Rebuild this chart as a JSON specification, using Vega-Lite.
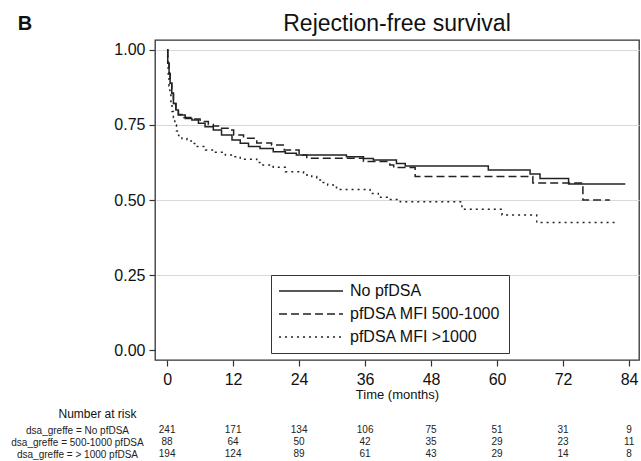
{
  "$schema": "https://vega.github.io/schema/vega-lite/v6.json",
  "padding": {"left": 10, "top": 12, "right": 0, "bottom": 0},
  "title": {"text": "B", "anchor": "start", "frame": "bounds", "fontSize": 20, "fontWeight": "bold", "font": "Liberation Sans", "color": "#111", "offset": -22, "dx": 7},
  "config": {"font": "Liberation Sans", "view": {"stroke": null}},
  "spacing": 5,
  "vconcat": [
    {
      "width": 484,
      "height": 320,
      "view": {"stroke": "#333", "strokeWidth": 1.3},
      "title": {"text": "Rejection-free survival", "fontSize": 23, "fontWeight": "normal", "anchor": "middle", "offset": 4, "color": "#111"},
      "data": {"values": [
        {"g": "No pfDSA", "t": 0, "s": 1.0},
        {"g": "No pfDSA", "t": 0.12, "s": 0.956},
        {"g": "No pfDSA", "t": 0.36, "s": 0.922},
        {"g": "No pfDSA", "t": 0.55, "s": 0.889},
        {"g": "No pfDSA", "t": 0.85, "s": 0.856},
        {"g": "No pfDSA", "t": 1.15, "s": 0.822},
        {"g": "No pfDSA", "t": 1.6, "s": 0.8},
        {"g": "No pfDSA", "t": 2.05, "s": 0.783},
        {"g": "No pfDSA", "t": 3.3, "s": 0.772},
        {"g": "No pfDSA", "t": 4.5, "s": 0.767},
        {"g": "No pfDSA", "t": 5.7, "s": 0.756},
        {"g": "No pfDSA", "t": 6.9, "s": 0.744},
        {"g": "No pfDSA", "t": 8.4, "s": 0.733},
        {"g": "No pfDSA", "t": 9.9, "s": 0.717},
        {"g": "No pfDSA", "t": 11.8, "s": 0.7},
        {"g": "No pfDSA", "t": 13.3, "s": 0.689},
        {"g": "No pfDSA", "t": 14.8, "s": 0.678},
        {"g": "No pfDSA", "t": 16.9, "s": 0.672},
        {"g": "No pfDSA", "t": 19.3, "s": 0.661},
        {"g": "No pfDSA", "t": 21.5, "s": 0.656},
        {"g": "No pfDSA", "t": 23.5, "s": 0.65},
        {"g": "No pfDSA", "t": 32.6, "s": 0.644},
        {"g": "No pfDSA", "t": 35.7, "s": 0.638},
        {"g": "No pfDSA", "t": 37.5, "s": 0.633},
        {"g": "No pfDSA", "t": 41.7, "s": 0.622},
        {"g": "No pfDSA", "t": 43.3, "s": 0.613},
        {"g": "No pfDSA", "t": 58.4, "s": 0.6},
        {"g": "No pfDSA", "t": 66.0, "s": 0.587},
        {"g": "No pfDSA", "t": 67.8, "s": 0.572},
        {"g": "No pfDSA", "t": 73.0, "s": 0.553},
        {"g": "No pfDSA", "t": 83.3, "s": 0.553},
        {"g": "pfDSA MFI 500-1000", "t": 0, "s": 1.0},
        {"g": "pfDSA MFI 500-1000", "t": 0.12, "s": 0.956},
        {"g": "pfDSA MFI 500-1000", "t": 0.36, "s": 0.922},
        {"g": "pfDSA MFI 500-1000", "t": 0.55, "s": 0.889},
        {"g": "pfDSA MFI 500-1000", "t": 0.85, "s": 0.856},
        {"g": "pfDSA MFI 500-1000", "t": 1.15, "s": 0.822},
        {"g": "pfDSA MFI 500-1000", "t": 1.6, "s": 0.8},
        {"g": "pfDSA MFI 500-1000", "t": 2.05, "s": 0.785},
        {"g": "pfDSA MFI 500-1000", "t": 3.0, "s": 0.775},
        {"g": "pfDSA MFI 500-1000", "t": 4.5, "s": 0.77},
        {"g": "pfDSA MFI 500-1000", "t": 6.0, "s": 0.762},
        {"g": "pfDSA MFI 500-1000", "t": 7.5, "s": 0.752},
        {"g": "pfDSA MFI 500-1000", "t": 8.4, "s": 0.747},
        {"g": "pfDSA MFI 500-1000", "t": 9.6, "s": 0.739},
        {"g": "pfDSA MFI 500-1000", "t": 11.5, "s": 0.733},
        {"g": "pfDSA MFI 500-1000", "t": 12.1, "s": 0.717},
        {"g": "pfDSA MFI 500-1000", "t": 13.9, "s": 0.706},
        {"g": "pfDSA MFI 500-1000", "t": 16.3, "s": 0.69},
        {"g": "pfDSA MFI 500-1000", "t": 19.0, "s": 0.683},
        {"g": "pfDSA MFI 500-1000", "t": 21.3, "s": 0.667},
        {"g": "pfDSA MFI 500-1000", "t": 24.0, "s": 0.65},
        {"g": "pfDSA MFI 500-1000", "t": 25.4, "s": 0.639},
        {"g": "pfDSA MFI 500-1000", "t": 35.7, "s": 0.628},
        {"g": "pfDSA MFI 500-1000", "t": 40.5, "s": 0.617},
        {"g": "pfDSA MFI 500-1000", "t": 41.2, "s": 0.608},
        {"g": "pfDSA MFI 500-1000", "t": 45.1, "s": 0.578},
        {"g": "pfDSA MFI 500-1000", "t": 66.5, "s": 0.557},
        {"g": "pfDSA MFI 500-1000", "t": 75.6, "s": 0.5},
        {"g": "pfDSA MFI 500-1000", "t": 80.5, "s": 0.5},
        {"g": "pfDSA MFI >1000", "t": 0, "s": 1.0},
        {"g": "pfDSA MFI >1000", "t": 0.1, "s": 0.96},
        {"g": "pfDSA MFI >1000", "t": 0.2, "s": 0.92},
        {"g": "pfDSA MFI >1000", "t": 0.35, "s": 0.88},
        {"g": "pfDSA MFI >1000", "t": 0.5, "s": 0.85},
        {"g": "pfDSA MFI >1000", "t": 0.7, "s": 0.82},
        {"g": "pfDSA MFI >1000", "t": 0.9, "s": 0.795},
        {"g": "pfDSA MFI >1000", "t": 1.15, "s": 0.775},
        {"g": "pfDSA MFI >1000", "t": 1.4, "s": 0.75},
        {"g": "pfDSA MFI >1000", "t": 1.7, "s": 0.73},
        {"g": "pfDSA MFI >1000", "t": 2.1, "s": 0.715},
        {"g": "pfDSA MFI >1000", "t": 2.7, "s": 0.705},
        {"g": "pfDSA MFI >1000", "t": 3.6, "s": 0.697},
        {"g": "pfDSA MFI >1000", "t": 4.4, "s": 0.688},
        {"g": "pfDSA MFI >1000", "t": 5.3, "s": 0.678},
        {"g": "pfDSA MFI >1000", "t": 7.0, "s": 0.667},
        {"g": "pfDSA MFI >1000", "t": 8.8, "s": 0.659},
        {"g": "pfDSA MFI >1000", "t": 10.6, "s": 0.65},
        {"g": "pfDSA MFI >1000", "t": 12.1, "s": 0.644},
        {"g": "pfDSA MFI >1000", "t": 13.3, "s": 0.636},
        {"g": "pfDSA MFI >1000", "t": 16.3, "s": 0.625},
        {"g": "pfDSA MFI >1000", "t": 17.0, "s": 0.617},
        {"g": "pfDSA MFI >1000", "t": 19.3, "s": 0.609},
        {"g": "pfDSA MFI >1000", "t": 21.5, "s": 0.594},
        {"g": "pfDSA MFI >1000", "t": 24.8, "s": 0.583},
        {"g": "pfDSA MFI >1000", "t": 26.3, "s": 0.578},
        {"g": "pfDSA MFI >1000", "t": 27.2, "s": 0.567},
        {"g": "pfDSA MFI >1000", "t": 28.2, "s": 0.558},
        {"g": "pfDSA MFI >1000", "t": 29.2, "s": 0.55},
        {"g": "pfDSA MFI >1000", "t": 30.8, "s": 0.535},
        {"g": "pfDSA MFI >1000", "t": 36.9, "s": 0.522},
        {"g": "pfDSA MFI >1000", "t": 38.4, "s": 0.509},
        {"g": "pfDSA MFI >1000", "t": 40.0, "s": 0.502},
        {"g": "pfDSA MFI >1000", "t": 42.4, "s": 0.494},
        {"g": "pfDSA MFI >1000", "t": 53.6, "s": 0.469},
        {"g": "pfDSA MFI >1000", "t": 60.9, "s": 0.45},
        {"g": "pfDSA MFI >1000", "t": 67.2, "s": 0.425},
        {"g": "pfDSA MFI >1000", "t": 81.5, "s": 0.425}
      ]},
      "mark": {"type": "line", "interpolate": "step-after", "color": "#222", "strokeWidth": 1.5},
      "encoding": {
        "x": {"field": "t", "type": "quantitative",
          "scale": {"domain": [-2.2, 85.8], "nice": false, "zero": false},
          "axis": {"values": [0, 12, 24, 36, 48, 60, 72, 84], "grid": false, "domain": false, "tickSize": 6, "tickColor": "#333", "tickWidth": 1.2, "labelFontSize": 16, "labelColor": "#111", "labelPadding": 5, "labelFlush": false, "title": "Time (months)", "titleFontSize": 13, "titleFontWeight": "normal", "titleColor": "#111", "titlePadding": 1}},
        "y": {"field": "s", "type": "quantitative",
          "scale": {"domain": [-0.0333, 1.0333], "nice": false, "zero": false},
          "axis": {"values": [0, 0.25, 0.5, 0.75, 1], "format": ".2f", "grid": true, "gridColor": {"condition": {"test": "datum.value === 0", "value": "transparent"}, "value": "#d9d9d9"}, "gridWidth": 1, "domain": false, "tickSize": 6, "tickColor": "#333", "tickWidth": 1.2, "labelFontSize": 16, "labelColor": "#111", "labelPadding": 4, "title": null}},
        "strokeDash": {"field": "g", "type": "nominal",
          "scale": {"domain": ["No pfDSA", "pfDSA MFI 500-1000", "pfDSA MFI >1000"], "range": [[1, 0], [8, 4], [2, 4]]},
          "legend": {"orient": "none", "legendX": 116, "legendY": 235, "title": null, "direction": "vertical", "strokeColor": "#333", "fillColor": "white", "padding": 8, "labelFontSize": 16, "labelColor": "#111", "symbolType": "M-2,0H14", "symbolSize": 64, "symbolStrokeWidth": 1.5, "symbolStrokeColor": "#222", "labelOffset": 55, "rowPadding": 7, "labelLimit": 300}}
      }
    },
    {
      "width": 484,
      "height": 36,
      "view": {"stroke": null},
      "data": {"values": [
        {"row": "dsa_greffe = No pfDSA", "t": 0, "n": 241},
        {"row": "dsa_greffe = No pfDSA", "t": 12, "n": 171},
        {"row": "dsa_greffe = No pfDSA", "t": 24, "n": 134},
        {"row": "dsa_greffe = No pfDSA", "t": 36, "n": 106},
        {"row": "dsa_greffe = No pfDSA", "t": 48, "n": 75},
        {"row": "dsa_greffe = No pfDSA", "t": 60, "n": 51},
        {"row": "dsa_greffe = No pfDSA", "t": 72, "n": 31},
        {"row": "dsa_greffe = No pfDSA", "t": 84, "n": 9},
        {"row": "dsa_greffe = 500-1000 pfDSA", "t": 0, "n": 88},
        {"row": "dsa_greffe = 500-1000 pfDSA", "t": 12, "n": 64},
        {"row": "dsa_greffe = 500-1000 pfDSA", "t": 24, "n": 50},
        {"row": "dsa_greffe = 500-1000 pfDSA", "t": 36, "n": 42},
        {"row": "dsa_greffe = 500-1000 pfDSA", "t": 48, "n": 35},
        {"row": "dsa_greffe = 500-1000 pfDSA", "t": 60, "n": 29},
        {"row": "dsa_greffe = 500-1000 pfDSA", "t": 72, "n": 23},
        {"row": "dsa_greffe = 500-1000 pfDSA", "t": 84, "n": 11},
        {"row": "dsa_greffe = > 1000 pfDSA", "t": 0, "n": 194},
        {"row": "dsa_greffe = > 1000 pfDSA", "t": 12, "n": 124},
        {"row": "dsa_greffe = > 1000 pfDSA", "t": 24, "n": 89},
        {"row": "dsa_greffe = > 1000 pfDSA", "t": 36, "n": 61},
        {"row": "dsa_greffe = > 1000 pfDSA", "t": 48, "n": 43},
        {"row": "dsa_greffe = > 1000 pfDSA", "t": 60, "n": 29},
        {"row": "dsa_greffe = > 1000 pfDSA", "t": 72, "n": 14},
        {"row": "dsa_greffe = > 1000 pfDSA", "t": 84, "n": 8}
      ]},
      "mark": {"type": "text", "fontSize": 10, "color": "#222"},
      "encoding": {
        "x": {"field": "t", "type": "quantitative", "scale": {"domain": [-2.2, 85.8], "nice": false, "zero": false}, "axis": null},
        "y": {"field": "row", "type": "nominal",
          "sort": ["dsa_greffe = No pfDSA", "dsa_greffe = 500-1000 pfDSA", "dsa_greffe = > 1000 pfDSA"],
          "axis": {"title": "Number at risk", "titleAngle": 0, "titleX": -58, "titleY": -11, "titleAlign": "center", "titleBaseline": "middle", "titleFontSize": 12, "titleFontWeight": "normal", "titleColor": "#111", "labelAlign": "center", "labelPadding": 78, "ticks": false, "tickSize": 0, "domain": false, "labelFontSize": 10, "labelColor": "#222", "labelLimit": 300}},
        "text": {"field": "n", "type": "quantitative"}
      }
    }
  ]
}
